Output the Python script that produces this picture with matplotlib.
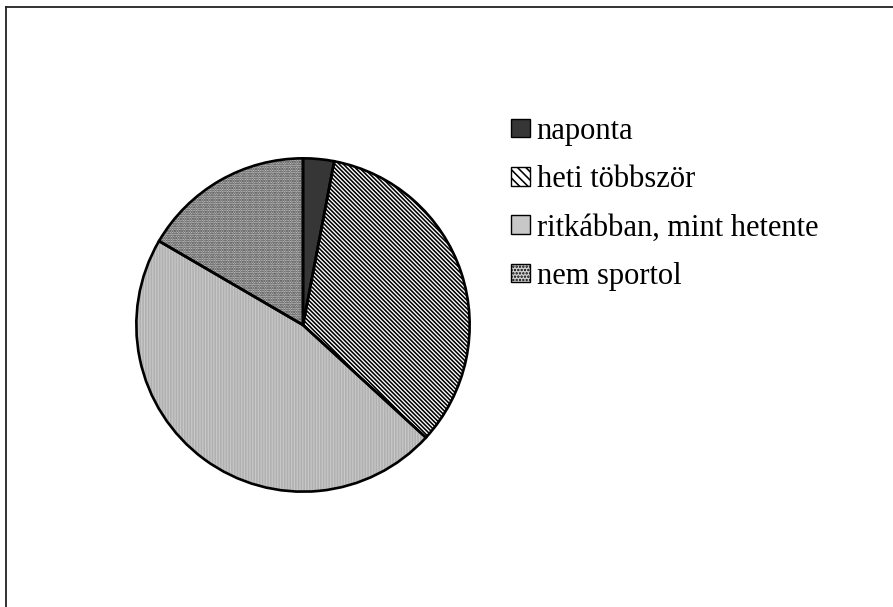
import matplotlib
matplotlib.use("Agg")
import matplotlib.pyplot as plt
from matplotlib.lines import Line2D
from matplotlib.patches import Patch

plt.rcParams['font.family'] = ['Liberation Serif', 'DejaVu Serif']
plt.rcParams['hatch.linewidth'] = 1.15

# share of respondents by how often they do sport (%)
labels = ['naponta', 'heti többször', 'ritkábban, mint hetente', 'nem sportol']
values = [3.0, 33.8, 46.6, 16.6]

fills = ['#363636', 'white', '#c8c8c8', '#d2d2d2']
hatches = [None, '\\' * 8, '|' * 6, '.' * 7]
hatch_cols = [None, 'black', '#b0b0b0', '#333333']

W, H = 893, 607
fig = plt.figure(figsize=(W / 100, H / 100), dpi=100)

# chart frame (runs off the right and bottom edge)
fig.add_artist(Line2D([6 / W, 6 / W], [0, 1 - 7 / H], transform=fig.transFigure,
                      color='#222222', lw=1.3))
fig.add_artist(Line2D([6 / W, 1], [1 - 7 / H, 1 - 7 / H], transform=fig.transFigure,
                      color='#222222', lw=1.3))

cx, cy, r = 303, 325, 170
ax = fig.add_axes([(cx - r) / W, (H - cy - r) / H, 2 * r / W, 2 * r / H])

# fills
wedges, _ = ax.pie(values, startangle=90, counterclock=False, radius=1,
                   colors=fills, wedgeprops=dict(linewidth=0))
for w, h, hc in zip(wedges, hatches, hatch_cols):
    if h:
        w.set_hatch(h)
        w.set_edgecolor(hc)
        w.set_linewidth(0)

# outlines on top
ax.pie(values, startangle=90, counterclock=False, radius=1,
       colors=['none'] * len(values),
       wedgeprops=dict(linewidth=1.9, edgecolor='black', fill=False))
ax.set_xlim(-1.02, 1.02)
ax.set_ylim(-1.02, 1.02)
ax.set_aspect('equal')
ax.axis('off')

handles = [
    Patch(facecolor=fills[0], edgecolor='black', lw=1.0),
    Patch(facecolor='white', edgecolor='black', hatch='\\' * 4, lw=1.0),
    Patch(facecolor=fills[2], edgecolor='black', lw=1.0),
    Patch(facecolor=fills[3], edgecolor='black', hatch='.' * 5, lw=1.0),
]
fig.legend(handles, labels, loc='upper left',
           bbox_to_anchor=(511 / W, 1 - 117 / H), frameon=False,
           fontsize=22, handlelength=0.62, handleheight=0.55,
           handletextpad=0.22, labelspacing=0.63, borderpad=0, borderaxespad=0)

fig.savefig('out.png', dpi=100, facecolor='white')
